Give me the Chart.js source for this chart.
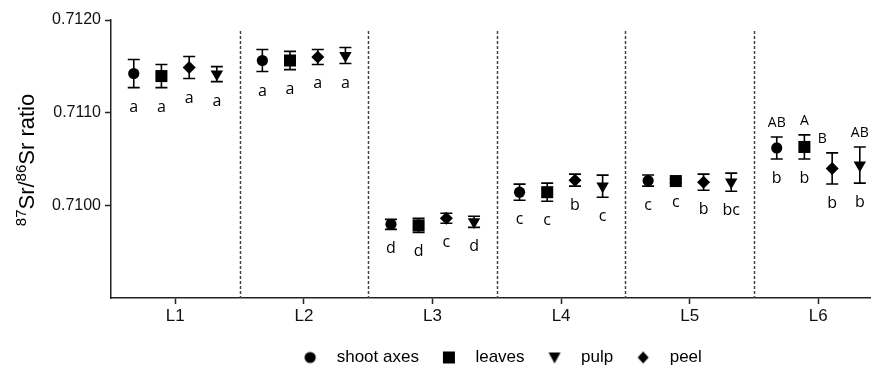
<!DOCTYPE html>
<html>
<head>
<meta charset="utf-8">
<script src="https://cdn.jsdelivr.net/npm/chart.js@4.4.1/dist/chart.umd.min.js"></script>
<style>
  html, body { margin: 0; padding: 0; background: #ffffff; }
  #wrap { width: 871px; height: 365px; position: relative; }
</style>
</head>
<body>
<div id="wrap"><canvas id="c"></canvas></div>
<script>
// ---- data ----
const categories = ['L1', 'L2', 'L3', 'L4', 'L5', 'L6'];
const seriesNames = ['shoot axes', 'leaves', 'pulp', 'peel'];

const shootAxes    = [0.711422, 0.711563, 0.709795, 0.710142, 0.710267, 0.710619];
const shootAxesErr = [0.000152, 0.000119, 0.000054, 0.000087, 0.000060, 0.000119];
const leaves       = [0.711395, 0.711563, 0.709784, 0.710142, 0.710262, 0.710630];
const leavesErr    = [0.000125, 0.000098, 0.000076, 0.000098, 0.000020, 0.000130];
const pulp         = [0.711416, 0.711617, 0.709822, 0.710207, 0.710250, 0.710435];
const pulpErr      = [0.000081, 0.000087, 0.000060, 0.000119, 0.000098, 0.000195];
const peel         = [0.711487, 0.711601, 0.709860, 0.710272, 0.710250, 0.710398];
const peelErr      = [0.000119, 0.000081, 0.000054, 0.000065, 0.000087, 0.000168];

const shootAxesLetters = ['a', 'a', 'd', 'c', 'c', 'b'];
const leavesLetters    = ['a', 'a', 'd', 'c', 'c', 'b'];
const pulpLetters      = ['a', 'a', 'd', 'c', 'bc', 'b'];
const peelLetters      = ['a', 'a', 'c', 'b', 'b', 'b'];
const shootAxesUpper   = ['', '', '', '', '', 'AB'];
const leavesUpper      = ['', '', '', '', '', 'A'];
const pulpUpper        = ['', '', '', '', '', 'AB'];
const peelUpper        = ['', '', '', '', '', 'B'];

const yTicks = [0.7100, 0.7110, 0.7120];
const yMin = 0.7090, yMax = 0.7120;
const dividerTop = 0.71188;

// ---- styling / layout ----
const AXIS_FONT = '"Liberation Sans", Arial, sans-serif';
const LETTER_FONT = '"Open Sans", "Noto Sans", sans-serif';
const offsets = [-0.323, -0.108, 0.323, 0.108];   // shoot, leaves, pulp, peel
const styles  = ['circle', 'rect', 'triangle', 'rectRot'];
const radii   = [5.6, 8.5, 7.2, 6.5];
const rotations = [0, 0, 180, 0];
const values  = [shootAxes, leaves, pulp, peel];
const errs    = [shootAxesErr, leavesErr, pulpErr, peelErr];
const lowers  = [shootAxesLetters, leavesLetters, pulpLetters, peelLetters];
const uppers  = [shootAxesUpper, leavesUpper, pulpUpper, peelUpper];

function legendIcon(style) {
  const cv = document.createElement('canvas');
  cv.width = 16; cv.height = 16;
  const g = cv.getContext('2d');
  g.fillStyle = '#000';
  g.beginPath();
  if (style === 'circle') { g.arc(8, 8, 5.6, 0, Math.PI * 2); }
  else if (style === 'rect') { g.rect(2, 2, 12, 12); }
  else if (style === 'triangle') { g.moveTo(2, 3); g.lineTo(14, 3); g.lineTo(8, 14); g.closePath(); }
  else { g.moveTo(8, 2); g.lineTo(13.5, 8); g.lineTo(8, 14); g.lineTo(2.5, 8); g.closePath(); }
  g.fill();
  return cv;
}

const datasets = seriesNames.map((name, i) => ({
  label: name,
  data: values[i].map((v, k) => ({ x: k + 1 + offsets[i], y: v })),
  pointStyle: styles[i],
  pointRadius: radii[i],
  pointRotation: rotations[i],
  pointBackgroundColor: '#000',
  pointBorderColor: '#000',
  pointBorderWidth: 0,
  showLine: false,
  errs: errs[i],
  lowerLetters: lowers[i],
  upperLetters: uppers[i],
  legendIcon: legendIcon(styles[i]),
}));

const dividerPlugin = {
  id: 'dividers',
  beforeDatasetsDraw(chart) {
    const { ctx, chartArea, scales: { x, y } } = chart;
    ctx.save();
    ctx.strokeStyle = '#444';
    ctx.lineWidth = 1.5;
    ctx.setLineDash([3, 2]);
    for (let k = 1; k < categories.length; k++) {
      const px = Math.round(x.getPixelForValue(k + 0.5)) + 0.5;
      ctx.beginPath();
      ctx.moveTo(px, y.getPixelForValue(dividerTop));
      ctx.lineTo(px, chartArea.bottom);
      ctx.stroke();
    }
    ctx.restore();
  }
};

const errorPlugin = {
  id: 'errorbars',
  afterDatasetsDraw(chart) {
    const { ctx, scales: { x, y } } = chart;
    ctx.save();
    ctx.strokeStyle = '#000';
    ctx.fillStyle = '#000';
    ctx.lineWidth = 1.6;
    chart.data.datasets.forEach((ds, i) => {
      ds.data.forEach((p, k) => {
        const px = x.getPixelForValue(p.x);
        const top = y.getPixelForValue(p.y + ds.errs[k]);
        const bot = y.getPixelForValue(p.y - ds.errs[k]);
        ctx.beginPath();
        ctx.moveTo(px, top); ctx.lineTo(px, bot);
        ctx.moveTo(px - 6, top); ctx.lineTo(px + 6, top);
        ctx.moveTo(px - 6, bot); ctx.lineTo(px + 6, bot);
        ctx.stroke();
        // significance letters
        ctx.textAlign = 'center';
        ctx.textBaseline = 'alphabetic';
        ctx.font = '16px ' + LETTER_FONT;
        const lo = ds.lowerLetters[k];
        if (lo) ctx.fillText(lo, px, bot + 24);
        const up = ds.upperLetters[k];
        if (up) {
          ctx.font = '14px ' + LETTER_FONT;
          const shift = (i === 3) ? -10 : 0;
          ctx.fillText(up, px + shift, top - 10);
        }
      });
    });
    ctx.restore();
  }
};

const yTitlePlugin = {
  id: 'ytitle',
  afterDraw(chart) {
    const { ctx } = chart;
    ctx.save();
    ctx.translate(26, 160);
    ctx.rotate(-Math.PI / 2);
    ctx.fillStyle = '#000';
    ctx.textBaseline = 'alphabetic';
    const parts = [
      { t: '87', sup: true }, { t: 'Sr/', sup: false },
      { t: '86', sup: true }, { t: 'Sr ratio', sup: false }
    ];
    const big = '22px ' + AXIS_FONT, small = '15px ' + AXIS_FONT;
    let total = 0;
    parts.forEach(p => { ctx.font = p.sup ? small : big; p.w = ctx.measureText(p.t).width; total += p.w; });
    let cx = -total / 2;
    parts.forEach(p => {
      ctx.font = p.sup ? small : big;
      ctx.textAlign = 'left';
      ctx.fillText(p.t, cx, p.sup ? 0 : 8);
      cx += p.w;
    });
    ctx.restore();
  }
};

// nudge the legend so it sits centred under the full (uncropped) plot width
const legendShift = {
  id: 'legendShift',
  afterLayout(chart) {
    const lg = chart.legend;
    if (lg) { lg.left += 6; lg.right += 6; }
  }
};

new Chart(document.getElementById('c'), {
  type: 'scatter',
  data: { datasets },
  plugins: [dividerPlugin, errorPlugin, yTitlePlugin, legendShift],
  options: {
    responsive: true,
    maintainAspectRatio: false,
    animation: false,
    layout: { autoPadding: false, padding: { top: 20, right: 0, left: 0, bottom: -11 } },
    plugins: {
      tooltip: { enabled: false },
      legend: {
        position: 'bottom',
        fullSize: false,
        labels: {
          usePointStyle: true,
          pointStyleWidth: 36,
          boxHeight: 14,
          padding: 12,
          color: '#000',
          font: { family: AXIS_FONT, size: 17 },
          generateLabels(chart) {
            return chart.data.datasets.map((ds, i) => ({
              text: ds.label,
              pointStyle: ds.legendIcon,
              fillStyle: '#000',
              strokeStyle: '#000',
              lineWidth: 0,
              hidden: false,
              datasetIndex: i,
            }));
          }
        }
      }
    },
    scales: {
      x: {
        type: 'linear',
        min: 0.5,
        max: 6.41,
        afterBuildTicks(scale) { scale.ticks = categories.map((c, i) => ({ value: i + 1 })); },
        afterFit(scale) { scale.height = 39; },
        ticks: {
          padding: 2,
          color: '#111',
          font: { family: AXIS_FONT, size: 17 },
          callback: (v) => categories[Math.round(v) - 1]
        },
        grid: { drawOnChartArea: false, drawTicks: true, tickLength: 6, tickColor: '#222', tickWidth: 1.5 },
        border: { display: true, color: '#222', width: 1.5 }
      },
      y: {
        type: 'linear',
        min: yMin,
        max: yMax,
        afterBuildTicks(scale) { scale.ticks = yTicks.map(v => ({ value: v })); },
        afterFit(scale) { scale.width = 111; },
        ticks: {
          padding: 4,
          color: '#111',
          font: { family: AXIS_FONT, size: 16 },
          callback: (v) => Number(v).toFixed(4)
        },
        grid: { drawOnChartArea: false, drawTicks: true, tickLength: 6, tickColor: '#222', tickWidth: 1.5 },
        border: { display: true, color: '#222', width: 1.5 }
      }
    }
  }
});
</script>
</body>
</html>
